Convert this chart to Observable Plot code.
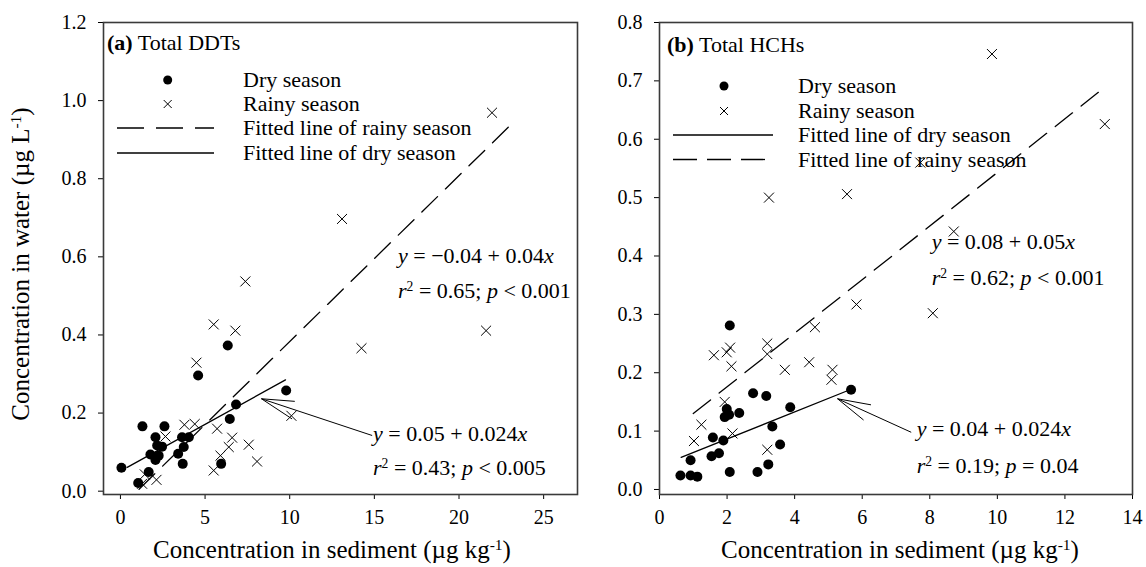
<!DOCTYPE html>
<html><head><meta charset="utf-8">
<script src="https://cdn.jsdelivr.net/npm/d3@7"></script>
<script src="https://cdn.jsdelivr.net/npm/@observablehq/plot@0.6"></script>
<style>
body{margin:0;background:#fff;}
#wrap{position:relative;width:1146px;height:567px;overflow:hidden;background:#fff;}
#wrap svg{position:absolute;top:0;}
</style></head><body><div id="wrap"></div>
<script>
// ---------- Data ----------
// Panel (a) Total DDTs: [sediment µg/kg, water µg/L]
const dryA = [[0.06,0.060],[1.05,0.021],[1.67,0.049],[1.30,0.166],[2.60,0.166],[2.07,0.138],[2.46,0.114],[2.17,0.117],[1.77,0.094],[2.26,0.091],[2.07,0.080],[3.64,0.138],[4.04,0.138],[3.74,0.113],[3.41,0.096],[3.68,0.070],[5.95,0.070],[4.59,0.296],[6.34,0.373],[6.46,0.185],[6.83,0.222],[9.79,0.258]];
const rainyA = [[5.51,0.427],[6.79,0.411],[4.49,0.329],[3.78,0.170],[4.39,0.172],[2.66,0.140],[5.71,0.160],[6.60,0.137],[6.40,0.113],[7.58,0.119],[5.91,0.091],[8.07,0.076],[5.51,0.053],[10.10,0.193],[1.44,0.043],[2.13,0.029],[1.28,0.019],[21.95,0.969],[13.09,0.697],[7.38,0.537],[21.60,0.411],[14.24,0.366]];
const fitDryA = [[0.4,0.061],[9.75,0.285]];
const fitRainyA = [[1.1,0.005],[23.2,0.944]];
const arrowA = [[14.87,0.1426,8.33,0.2366],[10.30,0.230,8.33,0.2366],[10.14,0.185,8.33,0.2366]];
const xTicksA = [0,5,10,15,20,25];
const yTicksA = [0,0.2,0.4,0.6,0.8,1.0,1.2];

// Panel (b) Total HCHs
const dryB = [[5.67,0.171],[2.77,0.165],[3.16,0.160],[3.87,0.141],[1.99,0.138],[2.06,0.128],[1.93,0.124],[2.36,0.131],[3.34,0.108],[1.58,0.089],[1.89,0.084],[3.57,0.077],[1.54,0.057],[1.76,0.062],[0.92,0.050],[3.22,0.043],[0.62,0.024],[0.92,0.024],[1.12,0.022],[2.08,0.030],[2.90,0.030],[2.08,0.281]];
const rainyB = [[1.61,0.230],[1.99,0.235],[2.09,0.243],[2.13,0.211],[3.19,0.250],[3.19,0.232],[3.71,0.205],[4.43,0.218],[5.12,0.205],[5.09,0.188],[1.93,0.150],[1.24,0.111],[1.02,0.083],[2.16,0.096],[3.19,0.068],[3.24,0.500],[5.55,0.506],[8.71,0.442],[5.83,0.317],[8.09,0.302],[4.60,0.278],[9.84,0.746],[13.18,0.626],[7.72,0.560]];
const fitDryB = [[0.64,0.055],[5.6,0.170]];
const fitRainyB = [[1.0,0.130],[13.2,0.690]];
const arrowB = [[7.45,0.098,5.27,0.1554],[6.26,0.145,5.27,0.1554],[6.04,0.119,5.27,0.1554]];
const xTicksB = [0,2,4,6,8,10,12,14];
const yTicksB = [0,0.1,0.2,0.3,0.4,0.5,0.6,0.7,0.8];

// Texts
const legendA = ["Dry season","Rainy season","Fitted line of rainy season","Fitted line of dry season"];
const legendB = ["Dry season","Rainy season","Fitted line of dry season","Fitted line of rainy season"];
const xTitle = "Concentration in sediment (\u00b5g kg";
const yTitle = "Concentration in water (\u00b5g L";

const FONT = '"Liberation Serif","Times New Roman",Times,serif';

function makePanel(o) {
  return Plot.plot({
    width: o.width, height: 567,
    marginLeft: o.marginLeft, marginRight: o.marginRight, marginTop: 22, marginBottom: 73,
    style: {fontFamily: FONT, fontSize: "20px", color: "#000", background: "transparent", overflow: "visible"},
    x: {domain: o.xDomain},
    y: {domain: o.yDomain},
    marks: [
      Plot.axisX({ticks: o.xTicks, tickSize: 5, tickPadding: 10, label: null, tickFormat: d => String(d)}),
      Plot.axisY({ticks: o.yTicks, tickSize: 5, tickPadding: 12, label: null, tickFormat: d3.format(".1f")}),
      Plot.frame({stroke: "#3a3a3a", strokeWidth: 1.6}),
      Plot.line(o.fitRainy, {x: d => d[0], y: d => d[1], stroke: "#000", strokeWidth: 1.3, strokeDasharray: "22,11"}),
      Plot.line(o.fitDry, {x: d => d[0], y: d => d[1], stroke: "#000", strokeWidth: 1.3}),
      Plot.link(o.arrow, {x1: d => d[0], y1: d => d[1], x2: d => d[2], y2: d => d[3], stroke: "#000", strokeWidth: 1}),
      Plot.dot(o.dry, {x: d => d[0], y: d => d[1], r: 5, fill: "#000"}),
      Plot.dot(o.rainy, {x: d => d[0], y: d => d[1], r: 4.6, symbol: "times", stroke: "#000", strokeWidth: 1})
    ]
  });
}

function rich(svg, x, y, parts, size, anchor = "start", transform = null) {
  const t = d3.select(svg).append("text")
    .attr("x", x).attr("y", y).attr("font-size", size).attr("font-family", FONT)
    .attr("text-anchor", anchor).attr("fill", "#000").style("white-space", "pre");
  if (transform) t.attr("transform", transform);
  for (const p of parts) {
    const [s, st] = typeof p === "string" ? [p, ""] : p;
    const ts = t.append("tspan").text(s);
    if (st.includes("i")) ts.attr("font-style", "italic");
    if (st.includes("b")) ts.attr("font-weight", "bold");
    if (st.includes("^")) ts.attr("baseline-shift", "super").attr("font-size", size * 0.62);
  }
  return t;
}

function legend(svg, x0, L) {
  const g = d3.select(svg).append("g");
  // title
  rich(svg, L.titleX, L.titleY, [[L.letter, "b"], " " + L.title], 22);
  L.items.forEach((label, i) => {
    const y = L.rows[i];
    rich(svg, L.textX, y + 7, [label], 22);
    const kind = L.kinds[i];
    if (kind === "dot") g.append("circle").attr("cx", L.symX).attr("cy", y).attr("r", 4.5).attr("fill", "#000");
    else if (kind === "x") g.append("path").attr("d", `M${L.symX-4},${y-4}L${L.symX+4},${y+4}M${L.symX-4},${y+4}L${L.symX+4},${y-4}`).attr("stroke", "#000").attr("stroke-width", 1);
    else g.append("line").attr("x1", L.lineX1).attr("x2", L.lineX2).attr("y1", y).attr("y2", y)
      .attr("stroke", "#000").attr("stroke-width", 1.3).attr("stroke-dasharray", kind === "dash" ? L.dash : null);
  });
}

const wrap = document.getElementById("wrap");

// ---------- Panel (a) ----------
const pa = makePanel({width: 590, marginLeft: 103, marginRight: 13, xDomain: [-1, 27], yDomain: [-0.0085, 1.2],
  xTicks: xTicksA, yTicks: yTicksA, dry: dryA, rainy: rainyA, fitDry: fitDryA, fitRainy: fitRainyA, arrow: arrowA});
pa.style.left = "0px";
wrap.appendChild(pa);
legend(pa, 0, {letter: "(a)", title: "Total DDTs", titleX: 107, titleY: 50,
  textX: 243, rows: [80, 104, 128, 153], items: legendA, kinds: ["dot", "x", "dash", "solid"],
  symX: 167.7, lineX1: 117, lineX2: 214, dash: "27,12"});
rich(pa, 398, 263, [["y", "i"], " = \u22120.04 + 0.04", ["x", "i"]], 22);
rich(pa, 398, 298, [["r", "i"], ["2", "^"], " = 0.65; ", ["p", "i"], " < 0.001"], 22);
rich(pa, 373, 441, [["y", "i"], " = 0.05 + 0.024", ["x", "i"]], 22);
rich(pa, 373, 475, [["r", "i"], ["2", "^"], " = 0.43; ", ["p", "i"], " < 0.005"], 22);
rich(pa, 332, 558, [xTitle, ["-1", "^"], ")"], 25, "middle");
rich(pa, 0, 0, [yTitle, ["-1", "^"], ")"], 25, "middle", "translate(28.5,264) rotate(-90)");

// ---------- Panel (b) ----------
const OFF = 590;
const pb = makePanel({width: 556, marginLeft: 69, marginRight: 14, xDomain: [0, 14], yDomain: [-0.0086, 0.8],
  xTicks: xTicksB, yTicks: yTicksB, dry: dryB, rainy: rainyB, fitDry: fitDryB, fitRainy: fitRainyB, arrow: arrowB});
pb.style.left = OFF + "px";
wrap.appendChild(pb);
legend(pb, OFF, {letter: "(b)", title: "Total HCHs", titleX: 667 - OFF, titleY: 51.5,
  textX: 798 - OFF, rows: [86, 111, 135, 159.5], items: legendB, kinds: ["dot", "x", "solid", "dash"],
  symX: 724 - OFF, lineX1: 673 - OFF, lineX2: 773 - OFF, dash: "24,10"});
rich(pb, 931.7 - OFF, 249, [["y", "i"], " = 0.08 + 0.05", ["x", "i"]], 22);
rich(pb, 931.7 - OFF, 285, [["r", "i"], ["2", "^"], " = 0.62; ", ["p", "i"], " < 0.001"], 22);
rich(pb, 916.7 - OFF, 436, [["y", "i"], " = 0.04 + 0.024", ["x", "i"]], 22);
rich(pb, 916.7 - OFF, 473, [["r", "i"], ["2", "^"], " = 0.19; ", ["p", "i"], " = 0.04"], 22);
rich(pb, 900 - OFF, 558, [xTitle, ["-1", "^"], ")"], 25, "middle");
</script>
</body></html>
